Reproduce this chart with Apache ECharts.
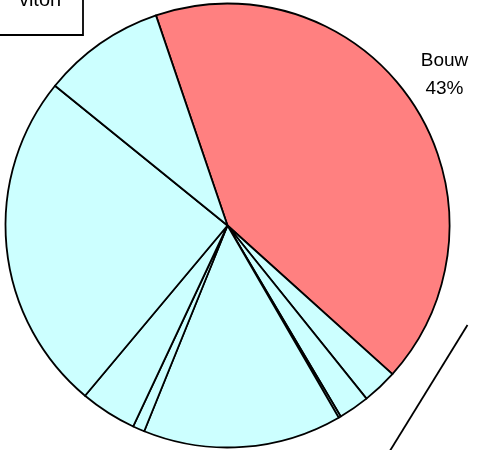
<!DOCTYPE html>
<html>
<head>
<meta charset="utf-8">
<script src="https://cdn.jsdelivr.net/npm/echarts@6/dist/echarts.min.js"></script>
<style>
html,body{margin:0;padding:0;background:#fff;}
#c{width:488px;height:450px;}
</style>
</head>
<body>
<div id="c"></div>
<script>
const categories = ['Bouw', 'Categorie 2', 'Categorie 3', 'Categorie 4', 'Categorie 5', 'Categorie 6', 'Categorie 7', 'Categorie 8', 'Categorie 9'];
const values = [41.9, 2.56, 2.25, 0.17, 14.47, 0.86, 4.11, 24.75, 8.94];
const labelPercents = [43, null, null, null, null, null, null, null, null];
const colors = ['#FF8080', '#CCFFFF', '#CCFFFF', '#CCFFFF', '#CCFFFF', '#CCFFFF', '#CCFFFF', '#CCFFFF', '#CCFFFF'];
const boxText = 'viton';

const chart = echarts.init(document.getElementById('c'), null, {renderer: 'canvas'});
const data = categories.map((name, i) => ({
  name: name,
  value: values[i],
  itemStyle: {color: colors[i]},
  label: {show: labelPercents[i] !== null},
  labelLine: {show: false}
}));

chart.setOption({
  animation: false,
  backgroundColor: '#ffffff',
  series: [{
    type: 'pie',
    center: [227.5, 225.5],
    radius: 222,
    startAngle: 108.8,
    clockwise: true,
    avoidLabelOverlap: false,
    itemStyle: {borderColor: '#000', borderWidth: 1.8},
    emphasis: {disabled: true},
    label: {
      position: 'outside',
      formatter: p => p.name + '\n' + labelPercents[p.dataIndex] + '%',
      fontFamily: 'Liberation Sans, Arial, sans-serif',
      fontSize: 19,
      lineHeight: 28,
      color: '#000',
      align: 'center'
    },
    labelLine: {show: false},
    labelLayout: function () {
      return {x: 444.5, y: 75, align: 'center', verticalAlign: 'middle'};
    },
    data: data
  }],
  graphic: [
    {
      type: 'rect',
      shape: {x: -20, y: -40, width: 103, height: 75},
      style: {fill: '#fff', stroke: '#000', lineWidth: 1.8},
      z: 10
    },
    {
      type: 'text',
      x: 40, y: 10,
      style: {text: boxText, font: '20px "Liberation Sans", Arial, sans-serif', fill: '#000', textAlign: 'center', textVerticalAlign: 'bottom'},
      z: 11
    },
    {
      type: 'line',
      shape: {x1: 467.5, y1: 325, x2: 384.3, y2: 460},
      style: {stroke: '#000', lineWidth: 1.8},
      z: 10
    }
  ]
});
</script>
</body>
</html>
